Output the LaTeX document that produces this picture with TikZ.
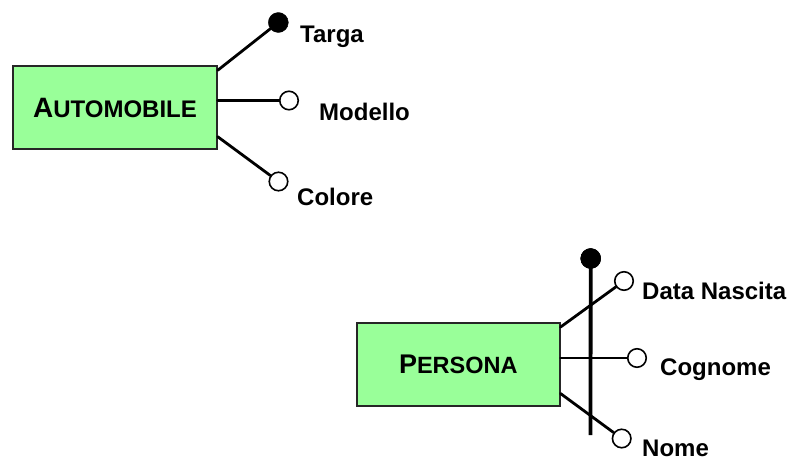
\documentclass[tikz,border=0pt]{standalone}
\usepackage{fontspec}
\setmainfont{Liberation Sans}
\definecolor{entgreen}{RGB}{153,255,153}
\begin{document}
\begin{tikzpicture}[x=1pt,y=-1pt,
  entity/.style={draw=black!85, line width=1.5pt, fill=entgreen, inner sep=0pt, font=\bfseries},
  attr/.style={circle, draw=black, line width=1.6pt, fill=white, minimum size=18.5pt, inner sep=0pt},
  keyattr/.style={circle, draw=black, fill=black, minimum size=20pt, inner sep=0pt},
  link/.style={line width=2.8pt, line cap=round},
  bar/.style={line width=3.8pt},
  lbl/.style={anchor=base west, inner sep=0pt, font=\fontsize{24}{25}\selectfont\bfseries}
]
\useasboundingbox (0,0) rectangle (792,461);

% AUTOMOBILE
\node[entity, minimum width=204pt, minimum height=83pt] (auto) at (115,107.5)
  {{\fontsize{28}{28}\selectfont A}{\fontsize{24}{24}\selectfont UTOMOBILE}};
\node[keyattr] (targa) at (278.3,22.5) {};
\node[attr] (modello) at (289,100.5) {};
\node[attr] (colore) at (278.5,181.5) {};
\coordinate (a1) at ([yshift=-5pt]auto.north east);
\coordinate (a3) at ([yshift=13pt]auto.south east);
\draw[link] (a1) -- (targa);
\draw[link] (auto.east |- modello) -- (modello);
\draw[link] (a3) -- (colore);
\node[lbl] (ltarga) at (300,42) {Targa};
\node[lbl] (lmodello) at (319,120) {Modello};
\node[lbl] (lcolore) at (297,205) {Colore};

% PERSONA
\node[entity, minimum width=203pt, minimum height=83pt] (pers) at (458.3,364.3)
  {{\fontsize{27}{27}\selectfont P}{\fontsize{23.5}{24}\selectfont ERSONA}};
\node[keyattr] (pkey) at (590.7,258.5) {};
\coordinate (pbot) at (590.5,435);
\node[attr] (data) at (624,281) {};
\node[attr] (cogn) at (637,358) {};
\node[attr] (nome) at (621.7,438.5) {};
\coordinate (p1) at ([yshift=-5pt]pers.north east);
\coordinate (p3) at ([yshift=13pt]pers.south east);
\draw[link] (p1) -- (data);
\draw[link] (pers.east |- cogn) -- (cogn);
\draw[link] (p3) -- (nome);
\draw[bar] (pkey.center) -- (pbot);
\node[keyattr] at (pkey) {};
\node[lbl] (ldata) at (642,299) {Data Nascita};
\node[lbl] (lcogn) at (660,375.5) {Cognome};
\node[lbl] (lnome) at (642,456) {Nome};
\end{tikzpicture}
\end{document}
